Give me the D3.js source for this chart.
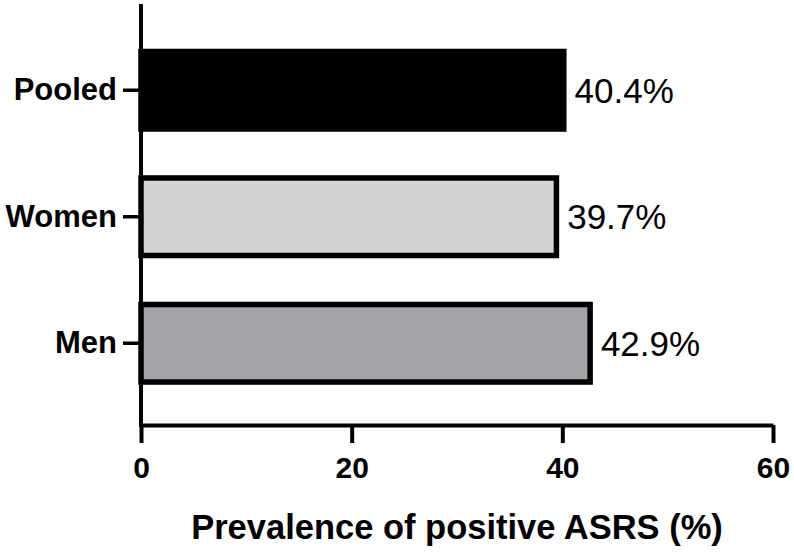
<!DOCTYPE html>
<html>
<head>
<meta charset="utf-8">
<script src="https://cdn.jsdelivr.net/npm/d3@7"></script>
<style>
  html, body { margin: 0; padding: 0; background: #fff; }
  svg { display: block; font-family: "Liberation Sans", Arial, sans-serif; }
</style>
</head>
<body>
<script>
//------------------------------ data ------------------------------
const groups = ["Pooled", "Women", "Men"];
const prevalence = [40.4, 39.7, 42.9];
const valueLabels = ["40.4%", "39.7%", "42.9%"];
const xTicks = [0, 20, 40, 60];
const xTitle = "Prevalence of positive ASRS (%)";

//------------------------------ init ------------------------------
const width = 794,
    height = 557,
    plotTop = 4,
    plotBottom = 425,
    plotLeft = 141,
    plotRight = 773;

const fills = { Pooled: "#000000", Women: "#d4d4d4", Men: "#a3a2a7" };
const barStroke = 5.5;

const xScale = d3.scaleLinear().domain([0, 60]).range([plotLeft, plotRight]);
const yScale = d3.scaleBand().domain(groups).range([27, 406.5])
    .paddingInner(0.387).paddingOuter(0.1935);

const svg = d3.select("body").append("svg")
    .attr("width", width)
    .attr("height", height);

//------------------------------ bars ------------------------------
const rows = groups.map((g, i) => ({ group: g, value: prevalence[i], label: valueLabels[i] }));

svg.append("g").selectAll("rect")
  .data(rows)
  .join("rect")
    .attr("x", xScale(0))
    .attr("y", d => yScale(d.group))
    .attr("width", d => xScale(d.value) - xScale(0) - barStroke / 2)
    .attr("height", yScale.bandwidth())
    .attr("fill", d => fills[d.group])
    .attr("stroke", "#000")
    .attr("stroke-width", barStroke);

svg.append("g").selectAll("text")
  .data(rows)
  .join("text")
    .attr("x", d => xScale(d.value) + 8)
    .attr("y", d => yScale(d.group) + yScale.bandwidth() / 2)
    .attr("dominant-baseline", "central")
    .attr("font-size", 35)
    .attr("fill", "#000")
    .text(d => d.label);

//------------------------------ axes ------------------------------
const xAxis = d3.axisBottom(xScale)
    .tickValues(xTicks)
    .tickFormat(d3.format("d"))
    .tickSize(18)
    .tickSizeOuter(0)
    .tickPadding(14);

const gx = svg.append("g")
    .attr("transform", `translate(0,${plotBottom})`)
    .call(xAxis);
gx.select(".domain").attr("stroke-width", 4);
gx.selectAll(".tick line").attr("stroke-width", 4);
gx.selectAll(".tick text")
    .attr("font-family", "'Liberation Sans', Arial, sans-serif")
    .attr("font-size", 30)
    .attr("font-weight", "bold")
    .attr("fill", "#000");

const yAxis = d3.axisLeft(yScale)
    .tickSize(18)
    .tickSizeOuter(0)
    .tickPadding(6);

const gy = svg.append("g")
    .attr("transform", `translate(${plotLeft},0)`)
    .call(yAxis);
gy.select(".domain").remove();
gy.selectAll(".tick line").attr("stroke-width", 3.5);
gy.selectAll(".tick text")
    .attr("font-family", "'Liberation Sans', Arial, sans-serif")
    .attr("font-size", 31)
    .attr("font-weight", "bold")
    .attr("fill", "#000");

// vertical axis line spans the whole plot height
svg.append("line")
    .attr("x1", plotLeft).attr("x2", plotLeft)
    .attr("y1", plotTop).attr("y2", plotBottom + 2)
    .attr("stroke", "#000")
    .attr("stroke-width", 4);

//------------------------------ title ------------------------------
svg.append("text")
    .attr("x", (plotLeft + plotRight) / 2)
    .attr("y", 539)
    .attr("text-anchor", "middle")
    .attr("font-size", 34.5)
    .attr("font-weight", "bold")
    .attr("fill", "#000")
    .text(xTitle);
</script>
</body>
</html>
